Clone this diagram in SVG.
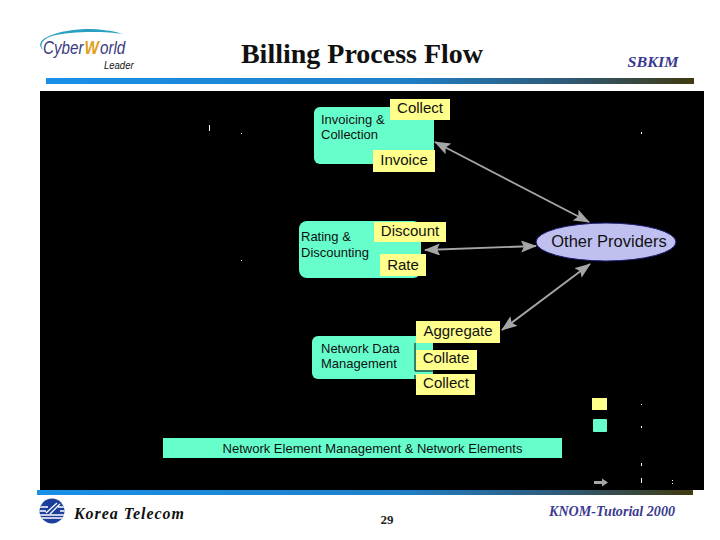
<svg xmlns="http://www.w3.org/2000/svg" width="720" height="540" viewBox="0 0 720 540">
<style>
.sans{font-family:"Liberation Sans",Arial,sans-serif;fill:#111}
.lbl{font-size:13px}
.box{font-size:15px}
.teal{fill:#66ffcc}
.yel{fill:#ffff8c}
.conn{stroke:#a6a6a6;stroke-width:1.8;fill:none;marker-start:url(#ah);marker-end:url(#ah)}
.serif{font-family:"Liberation Serif","Times New Roman",serif}
.logo{font-family:"Liberation Sans",Arial,sans-serif;font-style:italic}
.dot{fill:#fff}
</style>
<defs>
<linearGradient id="bar"><stop offset="0" stop-color="#1a90e8"/><stop offset=".55" stop-color="#1f80c8"/><stop offset=".8" stop-color="#2f5a78"/><stop offset="1" stop-color="#403a10"/></linearGradient>
<marker id="ah" viewBox="0 0 16 12" refX="15" refY="6" markerWidth="16" markerHeight="12" markerUnits="userSpaceOnUse" orient="auto-start-reverse"><path d="M0 0L16 6L0 12L3 6Z" fill="#a6a6a6"/></marker>
<clipPath id="kt"><circle cx="52" cy="511" r="12.500"/></clipPath>
</defs>
<rect width="720" height="540" fill="#fff"/>
<g id="logo">
<path d="M43 50C33 41 50 31 85 29C100 29 115 31 123 34C105 31 70 31 52 36C43 39 39 44 43 50Z" fill="#2aa0c0"/>
<text transform="translate(43 54) scale(.8 1)" class="logo" font-size="19" fill="#3a3a80">Cyber</text>
<text transform="translate(84.500 54) scale(.8 1)" class="logo" font-size="19" font-weight="bold" fill="#e0a020">W</text>
<text transform="translate(100 54) scale(.8 1)" class="logo" font-size="19" fill="#3a3a80">orld</text>
<text transform="translate(104 69) scale(.95 1)" class="logo" font-size="10" fill="#111">Leader</text>
</g>
<text x="362" y="63" text-anchor="middle" class="serif" font-size="28" font-weight="bold" fill="#111">Billing Process Flow</text>
<text x="653" y="67" text-anchor="middle" class="serif" font-size="15.500" font-weight="bold" font-style="italic" fill="#3a3a90" textLength="51" lengthAdjust="spacingAndGlyphs">SBKIM</text>
<rect x="46" y="78" width="648" height="6" fill="url(#bar)"/>
<rect x="40" y="91" width="664" height="399" fill="#000"/>
<rect x="37" y="490" width="656" height="5" fill="url(#bar)"/>

<g id="specks" class="dot">
<rect x="209" y="125" width="1" height="6"/><rect x="241" y="133" width="1" height="1"/><rect x="241" y="260" width="1" height="1"/><rect x="641" y="132" width="1" height="2"/><rect x="641" y="404" width="1" height="1"/><rect x="641" y="426" width="1" height="2"/><rect x="641" y="463" width="1" height="3"/><rect x="641" y="478" width="1" height="5"/><rect x="672" y="480" width="1" height="1"/><rect x="672" y="483" width="1" height="1"/>
</g>

<g id="invoicing">
<rect x="314" y="107" width="120" height="57" rx="6" class="teal"/>
<text class="sans lbl" x="321" y="124">Invoicing &amp;</text>
<text class="sans lbl" x="321" y="139">Collection</text>
</g>
<g id="collect-1"><rect x="390" y="99" width="60" height="21" class="yel"/><text class="sans box" x="420" y="113" text-anchor="middle">Collect</text></g>
<g id="invoice"><rect x="373" y="150" width="62" height="22" class="yel"/><text class="sans box" x="404" y="165" text-anchor="middle">Invoice</text></g>

<g id="rating">
<rect x="299" y="221" width="122" height="57" rx="8" class="teal"/>
<text class="sans lbl" x="301" y="241">Rating &amp;</text>
<text class="sans lbl" x="301" y="257">Discounting</text>
</g>
<g id="discount"><rect x="374" y="222" width="72" height="20" class="yel"/><text class="sans box" x="410" y="236" text-anchor="middle">Discount</text></g>
<g id="rate"><rect x="380" y="254" width="46" height="22" class="yel"/><text class="sans box" x="403" y="270" text-anchor="middle">Rate</text></g>

<g id="network-data">
<rect x="312" y="336" width="121" height="43" rx="6" class="teal"/>
<text class="sans lbl" x="321" y="353">Network Data</text>
<text class="sans lbl" x="321" y="368">Management</text>
</g>
<g id="aggregate"><rect x="416" y="321" width="84" height="22" class="yel"/><text class="sans box" x="458" y="336" text-anchor="middle">Aggregate</text></g>
<g id="collate"><path d="M415 343V371H433" fill="none" stroke="#000"/><rect x="416" y="350" width="61" height="20" class="yel"/><text class="sans box" x="446" y="363" text-anchor="middle">Collate</text></g>
<g id="collect-2"><path d="M415 375V379" stroke="#000"/><rect x="416" y="374" width="59" height="21" class="yel"/><text class="sans box" x="446" y="388" text-anchor="middle">Collect</text></g>

<g id="other-providers">
<ellipse cx="606" cy="242" rx="70" ry="19" fill="#c0c0f0" stroke="#1a1a70"/>
<text class="sans" x="609" y="247" font-size="16.500" text-anchor="middle">Other Providers</text>
</g>

<g id="connectors">
<path class="conn" d="M435 142L589 222"/>
<path class="conn" d="M425 250L536 246"/>
<path class="conn" d="M502 330L590 264"/>
</g>

<g id="element-mgmt">
<rect x="163" y="438" width="399" height="20" class="teal"/>
<text class="sans" x="372.500" y="453" font-size="13" text-anchor="middle">Network Element Management &amp; Network Elements</text>
</g>
<g id="legend">
<rect x="592" y="398" width="15" height="12" class="yel"/>
<rect x="593" y="419" width="14" height="13" rx="1" class="teal"/>
<path d="M594 481H602V478.500L608 482.500L602 486.500V484H594Z" fill="#a6a6a6"/>
</g>

<g id="kt-logo">
<circle cx="52" cy="511" r="12.500" fill="#1c3f9c"/>
<g clip-path="url(#kt)" stroke="#fff" stroke-width="1.300"><path d="M39 507H48M39 511H46M39 515H65M40 518H65M58 507H65M60 511H65"/><path d="M46 513L57 503M50 514L60 504"/></g>
</g>
<text x="74" y="519" class="serif" font-size="16" font-style="italic" font-weight="bold" letter-spacing=".95" fill="#111">Korea Telecom</text>
<text x="387" y="524" class="serif" font-size="13" font-weight="bold" text-anchor="middle" fill="#222">29</text>
<text x="612" y="516" class="serif" font-size="14" font-weight="bold" font-style="italic" text-anchor="middle" fill="#3a3a90" textLength="126" lengthAdjust="spacingAndGlyphs">KNOM-Tutorial 2000</text>
</svg>
